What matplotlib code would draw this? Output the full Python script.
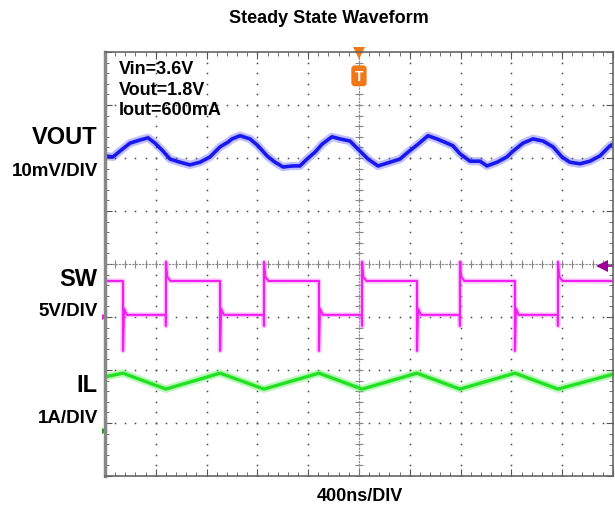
import numpy as np
import matplotlib
matplotlib.use("Agg")
import matplotlib.pyplot as plt

plt.rcParams['font.family'] = ['Liberation Sans', 'DejaVu Sans']

# time axis in ns (400 ns/DIV, 10 divisions), vertical axis in screen divisions (8)
# VOUT trace
vout_t = [0, 63, 118, 197, 276, 339, 394, 457, 512, 591, 669, 748, 827, 906, 969,
          1000, 1063, 1142, 1205, 1276, 1339, 1402, 1480, 1535, 1591, 1654, 1709,
          1787, 1850, 1929, 2008, 2071, 2150, 2244, 2323, 2386, 2465, 2543, 2614,
          2693, 2740, 2795, 2874, 2953, 3008, 3087, 3165, 3213, 3291, 3370, 3449,
          3528, 3598, 3661, 3740, 3819, 3898, 3976, 4000]
vout_div = [6.04, 6.02, 6.13, 6.28, 6.34, 6.38, 6.28, 6.13, 5.98, 5.92, 5.87, 5.92,
            6.02, 6.21, 6.30, 6.36, 6.42, 6.36, 6.23, 6.04, 5.92, 5.83, 5.85, 5.85,
            5.98, 6.11, 6.26, 6.40, 6.36, 6.32, 6.13, 5.98, 5.85, 5.92, 5.98, 6.11,
            6.26, 6.42, 6.36, 6.28, 6.23, 6.08, 5.94, 5.94, 5.85, 5.92, 6.02, 6.13,
            6.28, 6.36, 6.32, 6.21, 6.02, 5.92, 5.89, 5.94, 6.04, 6.23, 6.26]

# SW switching node: edge times and levels
sw_fall_ns = [142, 906, 1685, 2457, 3228]
sw_rise_ns = [480, 1252, 2024, 2795, 3567]
sw_high = 3.68
sw_low = 3.04
sw_fall_spike = 2.36
sw_rise_spike = 4.04
sw_rise_dip = 2.83

# IL inductor current: corner points
il_t = [0, 142, 480, 906, 1252, 1685, 2024, 2457, 2795, 3228, 3567, 4000]
il_div = [1.87, 1.94, 1.64, 1.94, 1.64, 1.94, 1.64, 1.94, 1.64, 1.94, 1.64, 1.92]

# build SW polyline from the edges
sw_t = [0]
sw_v = [sw_high]
for tf, tr in zip(sw_fall_ns, sw_rise_ns):
    sw_t += [tf, tf, tf + 8, tf + 30, tr - 2, tr, tr, tr + 10, tr + 35]
    sw_v += [sw_high, sw_fall_spike, sw_low + 0.12, sw_low, sw_low, sw_rise_dip,
             sw_rise_spike, sw_high + 0.08, sw_high]
sw_t.append(4000)
sw_v.append(sw_high)

fig = plt.figure(figsize=(6.15, 5.06), dpi=100)
ax = fig.add_axes([0.1707, 0.0573, 0.826, 0.838])
ax.set_xlim(0, 4000)
ax.set_ylim(0, 8)

# scope graticule
for k in range(1, 10):
    ys = np.arange(0, 8.01, 0.2)
    ax.plot([k * 400] * len(ys), ys, ls='none', marker='s', ms=1.1, color='#444444', mew=0)
for k in range(1, 8):
    xs = np.arange(0, 4001, 80)
    ax.plot(xs, [k] * len(xs), ls='none', marker='s', ms=1.1, color='#444444', mew=0)
ax.axvline(2000, color='#888888', lw=0.8, ls=(0, (2, 1)))
ax.axhline(4, color='#888888', lw=0.8, ls=(0, (2, 1)))
ax.plot([2000] * 41, np.arange(0, 8.01, 0.2), ls='none', marker='_', ms=6, color='#888888', mew=0.8)
ax.plot(np.arange(0, 4001, 80), [4] * 51, ls='none', marker='|', ms=6, color='#888888', mew=0.8)

ax.set_xticks(np.arange(0, 4001, 400))
ax.set_xticks(np.arange(0, 4001, 80), minor=True)
ax.set_yticks(np.arange(0, 8.01, 1))
ax.set_yticks(np.arange(0, 8.01, 0.2), minor=True)
ax.tick_params(which='both', direction='in', top=True, right=True,
               labelbottom=False, labelleft=False, color='#555555')
ax.tick_params(which='major', length=5)
ax.tick_params(which='minor', length=3)
for s in ax.spines.values():
    s.set_color('#666666')
    s.set_linewidth(1.2)
ax.spines['left'].set_linewidth(2.5)
ax.spines['left'].set_color('#888888')

# traces: fuzzy band + core
ax.plot(vout_t, vout_div, color='#4a4aff', lw=6, alpha=0.35, solid_joinstyle='round')
ax.plot(vout_t, vout_div, color='#1818ee', lw=2.6, solid_joinstyle='round')
ax.plot(sw_t, sw_v, color='#ff88ff', lw=3.5, alpha=0.5)
ax.plot(sw_t, sw_v, color='#f020f0', lw=1.5)
ax.plot(il_t, il_div, color='#66f266', lw=5.5, alpha=0.45)
ax.plot(il_t, il_div, color='#22e022', lw=2.4)

# trigger marker
ax.plot([2000], [7.98], marker='v', ms=9, color='#f07818', clip_on=False, mew=0)
ax.text(2000, 7.55, 'T', ha='center', va='center', color='white', fontsize=10,
        fontweight='bold',
        bbox=dict(boxstyle='round,pad=0.2', fc='#f07818', ec='#f07818'))
ax.plot([3913], [3.96], marker='<', ms=8, color='#990099', mew=0)
ax.plot([3913, 4000], [3.96, 3.96], color='#990099', lw=1.2)

# channel reference markers
ax.plot([0], [3.0], marker='>', ms=4, color='#e020e0', clip_on=False, mew=0)
ax.plot([0], [0.85], marker='>', ms=4, color='#20a020', clip_on=False, mew=0)

# annotations
ax.text(0.027, 0.982, 'Vin=3.6V\nVout=1.8V\nIout=600mA', transform=ax.transAxes,
        ha='left', va='top', fontsize=13, fontweight='bold', linespacing=1.3)

fig.text(0.535, 0.963, 'Steady State Waveform', ha='center', va='center',
         fontsize=13, fontweight='bold')
fig.text(0.585, 0.018, '400ns/DIV', ha='center', va='center', fontsize=13, fontweight='bold')

labels = [('VOUT', '10mV/DIV', 138, 171), ('SW', '5V/DIV', 279, 312), ('IL', '1A/DIV', 385, 419)]
for big, small, yb, ys in labels:
    fig.text(97 / 615, 1 - yb / 506, big, ha='right', va='center', fontsize=17, fontweight='bold')
    fig.text(98 / 615, 1 - ys / 506, small, ha='right', va='center', fontsize=13.5, fontweight='bold')

fig.savefig('out.png', dpi=100)
